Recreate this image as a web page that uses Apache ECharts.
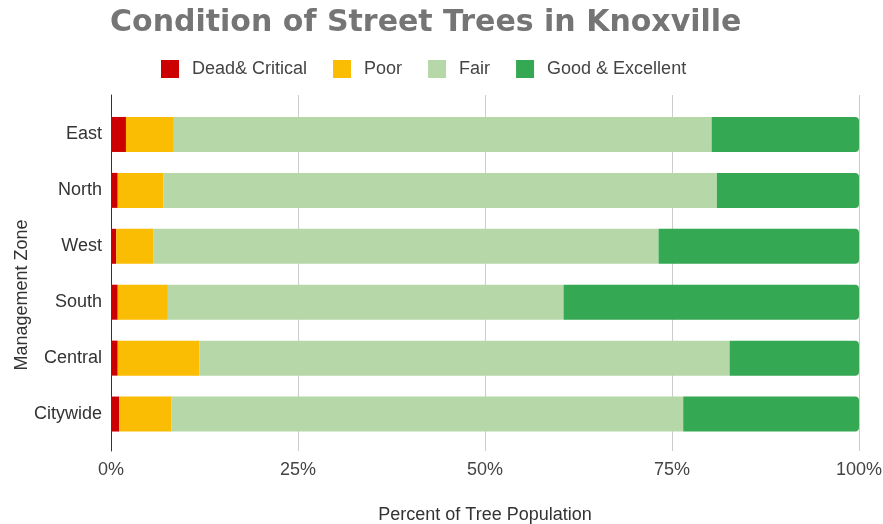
<!DOCTYPE html>
<html>
<head>
<meta charset="utf-8">
<script src="https://cdn.jsdelivr.net/npm/echarts@6/dist/echarts.min.js"></script>
<style>html,body{margin:0;padding:0;background:#fff}#c{width:883px;height:524px}</style>
</head>
<body>
<div id="c"></div>
<script>
const zones = ['East', 'North', 'West', 'South', 'Central', 'Citywide'];
const seriesNames = ['Dead& Critical', 'Poor', 'Fair', 'Good & Excellent'];
const deadCritical = [2.0, 0.9, 0.7, 0.9, 0.9, 1.1];
const poor = [6.4, 6.1, 5.0, 6.7, 10.9, 7.0];
const fair = [71.9, 74.0, 67.5, 52.9, 70.9, 68.4];
const goodExcellent = [19.7, 19.0, 26.8, 39.5, 17.3, 23.5];
const xTicks = [0, 25, 50, 75, 100];
const colors = ['#cc0000', '#fbbc04', '#b6d7a8', '#34a853'];

const chart = echarts.init(document.getElementById('c'), null, {renderer: 'canvas'});
const labelFont = '"Liberation Sans", Arial, sans-serif';
const allData = [deadCritical, poor, fair, goodExcellent];

chart.setOption({
  animation: false,
  color: colors,
  title: {
    text: 'Condition of Street Trees in Knoxville',
    left: 105, top: 3,
    textStyle: {fontFamily: '"DejaVu Sans", sans-serif', fontWeight: 'bold', fontSize: 30, color: '#757575'}
  },
  legend: {
    data: seriesNames,
    left: 156, top: 55,
    itemWidth: 18, itemHeight: 18, itemGap: 26,
    icon: 'rect',
    textStyle: {fontFamily: labelFont, fontSize: 18, color: '#444', padding: [0, 0, 0, 8]}
  },
  grid: [
    {left: 111, right: 24, top: 95, bottom: 73, outerBoundsMode: 'none', containLabel: false},
    {left: 111, right: 24, top: 106.5, bottom: 82, outerBoundsMode: 'none', containLabel: false},
    {left: 111, right: 24, top: 139, bottom: 73, outerBoundsMode: 'none', containLabel: false}
  ],
  xAxis: [
    {
      gridIndex: 0, type: 'value', min: xTicks[0], max: xTicks[xTicks.length - 1], interval: 25,
      axisLine: {show: false}, axisTick: {show: false},
      splitLine: {show: true, lineStyle: {color: '#cccccc', width: 1}},
      axisLabel: {formatter: '{value}%', fontFamily: labelFont, fontSize: 18, color: '#444', margin: 10},
      name: 'Percent of Tree Population', nameLocation: 'middle', nameGap: 55,
      nameTextStyle: {fontFamily: labelFont, fontSize: 18, color: '#333'}
    },
    {gridIndex: 1, type: 'value', min: 0, max: 100, show: false},
    {gridIndex: 2, type: 'value', min: 0, max: 100, show: false}
  ],
  yAxis: [
    {
      gridIndex: 0, type: 'value', min: 0, max: 1,
      axisLine: {show: true, lineStyle: {color: '#333', width: 1}},
      axisTick: {show: false}, axisLabel: {show: false}, splitLine: {show: false}
    },
    {
      gridIndex: 1, type: 'category', data: zones, inverse: true,
      axisLine: {show: false}, axisTick: {show: false}, splitLine: {show: false},
      axisLabel: {fontFamily: labelFont, fontSize: 18, color: '#333', margin: 9}
    },
    {
      gridIndex: 2, type: 'value', min: 0, max: 1,
      axisLine: {show: false}, axisTick: {show: false}, axisLabel: {show: false}, splitLine: {show: false},
      name: 'Management Zone', nameLocation: 'middle', nameGap: 80, nameRotate: 90,
      nameTextStyle: {fontFamily: labelFont, fontSize: 18, color: '#333'}
    }
  ],
  series: seriesNames.map((name, i) => ({
    name: name,
    type: 'bar',
    stack: 'total',
    xAxisIndex: 1, yAxisIndex: 1,
    barWidth: 35,
    data: allData[i],
    itemStyle: {color: colors[i], borderRadius: i === 3 ? [0, 4, 4, 0] : 0}
  }))
});
</script>
</body>
</html>
